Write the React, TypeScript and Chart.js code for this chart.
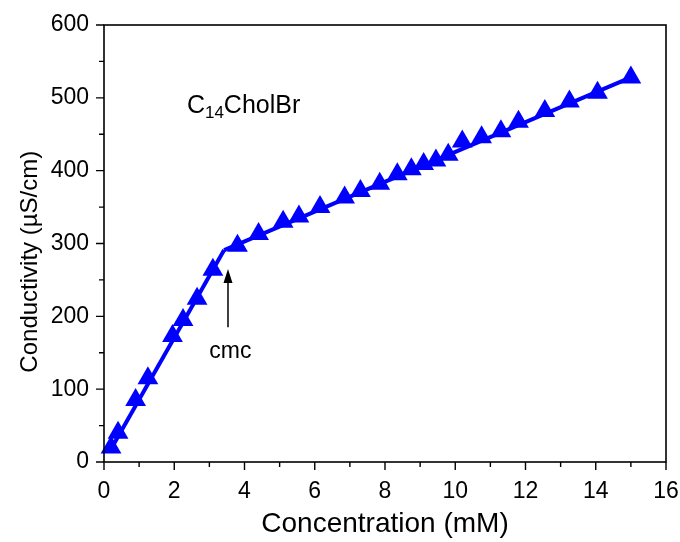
import React, { useEffect, useRef } from 'react';
import { Chart, registerables } from 'chart.js';

Chart.register(...registerables);

// Measured data (concentration in mM, conductivity in µS/cm)
const concentration = [0.2, 0.4, 0.9, 1.25, 1.95, 2.25, 2.65, 3.1, 3.8, 4.4, 5.1, 5.55, 6.15, 6.85, 7.3, 7.85, 8.35, 8.75, 9.1, 9.45, 9.8, 10.2, 10.75, 11.3, 11.8, 12.55, 13.25, 14.05, 15.0];
const conductivity = [20, 40, 85, 115, 173, 195, 224, 264, 297, 313, 330, 337, 350, 363, 372, 382, 395, 402, 409, 414, 422, 440, 446, 454, 467, 482, 495, 507, 528];

// Linear fits below and above the cmc
const fitBelowX = [0.2, 3.42];
const fitBelowY = [18, 291];
const fitAboveX = [3.42, 15.0];
const fitAboveY = [291, 528];

// Axis ticks
const xTicks = [0, 2, 4, 6, 8, 10, 12, 14, 16];
const xMinorTicks = [1, 3, 5, 7, 9, 11, 13, 15];
const yTicks = [0, 100, 200, 300, 400, 500, 600];
const yMinorTicks = [50, 150, 250, 350, 450, 550];

// Annotations
const yTitle = 'Conductivity (µS/cm)';
const yTitleCenter = 275; // value on the y axis where the title is centred
const labelText = ['C', '14', 'CholBr'];
const labelPos = { x: 2.36, y: 479 };
const cmcText = 'cmc';
const cmcArrow = { x: 3.53, yFrom: 185, yTo: 265 };
const cmcTextPos = { x: 3.6, y: 152 };

const FONT = '"Liberation Sans", Arial, sans-serif';

export default function App() {
  const ref = useRef<HTMLCanvasElement>(null);

  useEffect(() => {
    const canvas = ref.current;
    if (!canvas) return;

    const overlay = {
      id: 'overlay',
      afterDraw(chart: any) {
        const { ctx, chartArea } = chart;
        const xs = chart.scales.x;
        const ys = chart.scales.y;
        ctx.save();
        // frame
        ctx.strokeStyle = '#000';
        ctx.lineWidth = 1.6;
        ctx.strokeRect(chartArea.left, chartArea.top, chartArea.right - chartArea.left, chartArea.bottom - chartArea.top);
        // ticks
        ctx.lineWidth = 1.4;
        ctx.beginPath();
        xTicks.forEach((v) => {
          const px = xs.getPixelForValue(v);
          ctx.moveTo(px, chartArea.bottom);
          ctx.lineTo(px, chartArea.bottom + 8);
        });
        xMinorTicks.forEach((v) => {
          const px = xs.getPixelForValue(v);
          ctx.moveTo(px, chartArea.bottom);
          ctx.lineTo(px, chartArea.bottom + 5);
        });
        yTicks.forEach((v) => {
          const py = ys.getPixelForValue(v);
          ctx.moveTo(chartArea.left, py);
          ctx.lineTo(chartArea.left - 8, py);
        });
        yMinorTicks.forEach((v) => {
          const py = ys.getPixelForValue(v);
          ctx.moveTo(chartArea.left, py);
          ctx.lineTo(chartArea.left - 5, py);
        });
        ctx.stroke();

        ctx.fillStyle = '#000';

        // y axis title
        ctx.save();
        ctx.translate(30, ys.getPixelForValue(yTitleCenter));
        ctx.rotate(-Math.PI / 2);
        ctx.font = `24px ${FONT}`;
        ctx.textAlign = 'center';
        ctx.textBaseline = 'middle';
        ctx.fillText(yTitle, 0, 0);
        ctx.restore();

        // compound label
        ctx.textBaseline = 'alphabetic';
        ctx.textAlign = 'left';
        let lx = xs.getPixelForValue(labelPos.x);
        const ly = ys.getPixelForValue(labelPos.y);
        ctx.font = `25px ${FONT}`;
        ctx.fillText(labelText[0], lx, ly);
        lx += ctx.measureText(labelText[0]).width;
        ctx.font = `17px ${FONT}`;
        ctx.fillText(labelText[1], lx, ly + 5);
        lx += ctx.measureText(labelText[1]).width;
        ctx.font = `25px ${FONT}`;
        ctx.fillText(labelText[2], lx, ly);

        // cmc arrow
        const ax = xs.getPixelForValue(cmcArrow.x);
        const ay1 = ys.getPixelForValue(cmcArrow.yFrom);
        const ay2 = ys.getPixelForValue(cmcArrow.yTo);
        ctx.lineWidth = 1.5;
        ctx.beginPath();
        ctx.moveTo(ax, ay1);
        ctx.lineTo(ax, ay2 + 10);
        ctx.stroke();
        ctx.beginPath();
        ctx.moveTo(ax, ay2);
        ctx.lineTo(ax - 4.5, ay2 + 14);
        ctx.lineTo(ax + 4.5, ay2 + 14);
        ctx.closePath();
        ctx.fill();

        ctx.font = `23px ${FONT}`;
        ctx.textAlign = 'center';
        ctx.textBaseline = 'middle';
        ctx.fillText(cmcText, xs.getPixelForValue(cmcTextPos.x), ys.getPixelForValue(cmcTextPos.y));
        ctx.restore();
      },
    };

    const chart = new Chart(canvas, {
      type: 'scatter',
      data: {
        datasets: [
          {
            data: concentration.map((x, i) => ({ x, y: conductivity[i] })),
            pointStyle: 'triangle',
            pointRadius: 12,
            pointHoverRadius: 12,
            backgroundColor: '#0000ff',
            borderColor: '#0000ff',
            borderWidth: 0,
            showLine: false,
            clip: false,
          },
          {
            data: fitBelowX.map((x, i) => ({ x, y: fitBelowY[i] })),
            showLine: true,
            borderColor: '#0000ff',
            borderWidth: 4,
            pointRadius: 0,
          },
          {
            data: fitAboveX.map((x, i) => ({ x, y: fitAboveY[i] })),
            showLine: true,
            borderColor: '#0000ff',
            borderWidth: 4,
            pointRadius: 0,
          },
        ],
      } as any,
      options: {
        responsive: false,
        animation: false,
        events: [],
        layout: { padding: { top: 25, right: 14, left: 0, bottom: 0 } },
        plugins: { legend: { display: false }, tooltip: { enabled: false } },
        scales: {
          x: {
            type: 'linear',
            min: 0,
            max: 16,
            afterBuildTicks: (s: any) => {
              s.ticks = xTicks.map((v) => ({ value: v }));
            },
            afterFit: (s: any) => {
              s.height = 80;
              s.paddingRight = 0;
              s.paddingLeft = 0;
            },
            grid: { display: false, drawTicks: true, tickLength: 8 },
            border: { display: false },
            ticks: { color: '#000', font: { family: FONT, size: 23 }, padding: 8, maxRotation: 0 },
            title: {
              display: true,
              text: 'Concentration (mM)',
              color: '#000',
              font: { family: FONT, size: 28 },
              padding: { top: 0, bottom: 1 },
            },
          },
          y: {
            type: 'linear',
            min: 0,
            max: 600,
            afterBuildTicks: (s: any) => {
              s.ticks = yTicks.map((v) => ({ value: v }));
            },
            afterFit: (s: any) => {
              s.width = 104;
              s.paddingTop = 0;
              s.paddingBottom = 0;
            },
            grid: { display: false, drawTicks: true, tickLength: 8 },
            border: { display: false },
            ticks: { color: '#000', font: { family: FONT, size: 23 }, padding: 7 },
            title: { display: false },
          },
        },
      } as any,
      plugins: [overlay],
    });

    return () => chart.destroy();
  }, []);

  return (
    <div style={{ position: 'fixed', left: 0, top: 0, width: 680, height: 542, background: '#fff' }}>
      <canvas ref={ref} width={680} height={542} style={{ display: 'block' }} />
    </div>
  );
}
